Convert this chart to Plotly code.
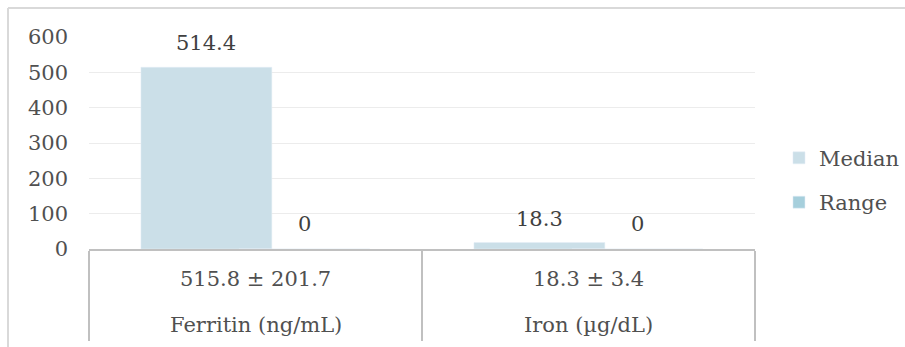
import plotly.graph_objects as go

categories = ["Ferritin (ng/mL)", "Iron (µg/dL)"]
mean_sd_labels = ["515.8 ± 201.7", "18.3 ± 3.4"]
median_values = [514.4, 18.3]
range_values = [0, 0]
y_ticks = [0, 100, 200, 300, 400, 500, 600]

FONT = "DejaVu Serif"
FS = 21
MEDIAN_COLOR = "#cbdfe8"
RANGE_COLOR = "#a6cfdc"
LINE_COLOR = "#c0c0c0"
TEXT_COLOR = "#505050"

bar_width = 0.393
median_offset = -0.344
range_offset = -0.05

idx = list(range(len(categories)))

fig = go.Figure()
fig.add_trace(go.Bar(
    x=idx, y=median_values, name="Median", marker_color=MEDIAN_COLOR,
    width=bar_width, offset=median_offset, legendgroup="m",
))
fig.add_trace(go.Bar(
    x=idx, y=range_values, name="Range", marker_color=RANGE_COLOR,
    width=bar_width, offset=range_offset, legendgroup="r",
))

annotations = []
for i in idx:
    annotations.append(dict(
        x=i + median_offset + bar_width / 2, y=median_values[i], xref="x", yref="y",
        text=str(median_values[i]), showarrow=False, yanchor="middle", yshift=24,
        font=dict(family=FONT, size=FS, color="#404040"),
    ))
    annotations.append(dict(
        x=i + range_offset + bar_width / 2, y=range_values[i], xref="x", yref="y",
        text=str(range_values[i]), showarrow=False, yanchor="middle", yshift=25,
        font=dict(family=FONT, size=FS, color="#404040"),
    ))
    annotations.append(dict(
        x=i, y=0, xref="x", yref="paper", text=mean_sd_labels[i], showarrow=False,
        yanchor="middle", yshift=-30, font=dict(family=FONT, size=FS, color=TEXT_COLOR),
    ))
    annotations.append(dict(
        x=i, y=0, xref="x", yref="paper", text=categories[i], showarrow=False,
        yanchor="middle", yshift=-76, font=dict(family=FONT, size=FS, color=TEXT_COLOR),
    ))

# outer chart frame (top and left edges visible in the cropped reference)
frame_left = (8 - 89) / 666
frame_top = (249 - 8) / 212
frame_right = (905 - 89) / 666
frame_bottom = (249 - 347) / 212

fig.update_layout(
    width=905, height=347,
    margin=dict(l=89, r=150, t=37, b=98, autoexpand=False),
    paper_bgcolor="white", plot_bgcolor="white",
    barmode="overlay",
    font=dict(family=FONT, size=FS, color=TEXT_COLOR),
    showlegend=True,
    legend=dict(
        x=1.036, xanchor="left", y=0.525, yanchor="top",
        traceorder="grouped", tracegroupgap=14,
        font=dict(family=FONT, size=FS, color=TEXT_COLOR),
        bgcolor="rgba(0,0,0,0)",
    ),
    xaxis=dict(
        type="linear", range=[-0.5, 1.5], tickvals=[-0.5, 0.5, 1.5],
        showticklabels=False, ticks="outside", ticklen=90, tickwidth=2,
        tickcolor=LINE_COLOR, showline=True, linecolor=LINE_COLOR, linewidth=2,
        showgrid=False, zeroline=False, fixedrange=True,
    ),
    yaxis=dict(
        range=[0, 600], tickvals=y_ticks, showgrid=True, gridcolor="#ececec",
        gridwidth=1, zeroline=False, showline=False, ticks="",
        ticklabelstandoff=20, tickfont=dict(family=FONT, size=FS, color=TEXT_COLOR),
    ),
    annotations=annotations,
    shapes=[
        dict(type="line", xref="paper", yref="paper",
             x0=frame_left, x1=frame_right, y0=frame_top, y1=frame_top,
             line=dict(color="#d9d9d9", width=2), layer="below"),
        dict(type="line", xref="paper", yref="paper",
             x0=frame_left, x1=frame_left, y0=frame_top, y1=frame_bottom,
             line=dict(color="#d9d9d9", width=2), layer="below"),
    ],
)

fig.write_html("out.html")
